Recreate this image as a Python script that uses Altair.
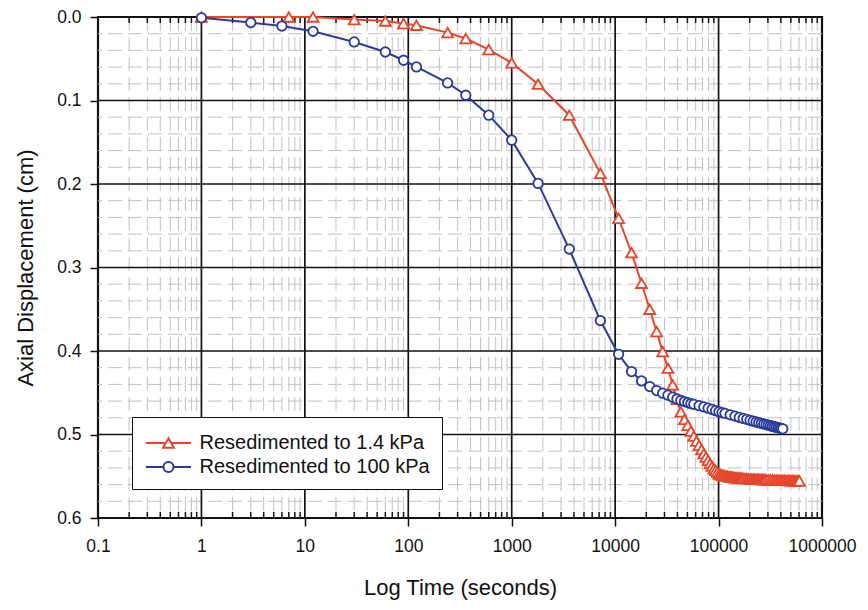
import altair as alt
import pandas as pd

RED_NAME = "Resedimented to 1.4 kPa"
BLUE_NAME = "Resedimented to 100 kPa"
RED = "#E5462B"
BLUE = "#2C3A9A"

# ---- series values (time in seconds, axial displacement in cm) ----
red_time = [1, 7, 12, 30, 60, 90, 120, 240, 360, 600, 1000, 1800, 3600, 7200,
            10800, 14400, 18000, 21600, 25200, 28800, 32400, 36000, 39600, 43200,
            46800, 50400, 54000, 57600, 61200, 64800, 68400, 72000, 75600, 79200,
            82800, 86400, 90000, 93600, 97200, 100800,
            104400, 108000, 111600, 115200, 118800, 122400, 126000, 129600, 133200, 136800,
            140400, 144000, 147600, 151200, 154800, 158400, 162000, 165600, 169200, 172800,
            180000, 187200, 194400, 201600, 208800, 216000, 223200, 230400, 237600, 244800,
            252000, 259200, 266400, 273600, 280800, 288000,
            302400, 316800, 331200, 345600, 360000, 374400, 388800, 403200, 417600, 432000,
            446400, 460800, 475200, 489600, 504000, 518400, 532800, 547200, 561600, 576000,
            590400, 604800]
red_disp = [0.0, 0.0, 0.0, 0.0031, 0.0048, 0.0079, 0.0099, 0.0187, 0.0258, 0.039,
            0.055, 0.0805, 0.1176, 0.1873, 0.2411, 0.2823, 0.3189, 0.350, 0.3768,
            0.4007, 0.4206, 0.4405, 0.458, 0.473, 0.482, 0.489, 0.496, 0.502, 0.508,
            0.513, 0.518, 0.523, 0.527, 0.531, 0.535, 0.538, 0.541, 0.543, 0.545,
            0.547,
            0.548, 0.5485, 0.549, 0.5495, 0.5499, 0.5502, 0.5505, 0.5508, 0.551, 0.5512,
            0.5514, 0.5516, 0.5518, 0.5519, 0.552, 0.5522, 0.5523, 0.5524, 0.5525, 0.5526,
            0.5528, 0.5529, 0.553, 0.5532, 0.5533, 0.5534, 0.5535, 0.5536, 0.5537, 0.5537,
            0.5538, 0.5539, 0.554, 0.554, 0.554, 0.5541,
            0.5542, 0.5543, 0.5544, 0.5545, 0.5546, 0.5546, 0.5547, 0.5548, 0.5548, 0.5549,
            0.555, 0.555, 0.5551, 0.5551, 0.5552, 0.5552, 0.5553, 0.5553, 0.5554, 0.5554,
            0.5555, 0.5555]

blue_time = [1, 3, 6, 12, 30, 60, 90, 120, 240, 360, 600, 1000, 1800, 3600, 7200,
             10800, 14400, 18000, 21600, 25200, 28800, 32400, 36000, 39600, 43200,
             46800, 50400, 54000, 57600, 64800, 72000, 79200, 86400, 93600, 100800,
             108000, 115200, 129600, 144000, 158400, 172800, 187200, 201600, 216000,
             230400, 244800, 259200, 273600, 288000, 302400, 316800, 331200, 345600,
             360000, 374400, 388800, 403200, 417600]
blue_disp = [0.001, 0.0067, 0.0108, 0.0171, 0.0299, 0.0419, 0.0518, 0.0598, 0.079,
             0.0937, 0.1176, 0.1475, 0.1993, 0.2779, 0.3636, 0.404, 0.4246, 0.4358,
             0.4426, 0.4474, 0.4505, 0.4529, 0.4553, 0.4575, 0.4593, 0.4606, 0.4618,
             0.463, 0.4638, 0.4655, 0.467, 0.4685, 0.470, 0.4715, 0.4727, 0.4737,
             0.4747, 0.4764, 0.478, 0.4795, 0.4808, 0.4818, 0.483, 0.484, 0.485,
             0.4858, 0.4866, 0.4874, 0.4881, 0.4888, 0.4895, 0.4901, 0.4907, 0.4913,
             0.4918, 0.4923, 0.4928, 0.4932]

# ---- axis tick values ----
x_major = [0.1, 1, 10, 100, 1000, 10000, 100000, 1000000]
x_minor = [m * d for d in [0.1, 1, 10, 100, 1000, 10000, 100000] for m in range(2, 10)]
y_major = [0.0, 0.1, 0.2, 0.3, 0.4, 0.5, 0.6]
y_minor = [0.02, 0.04, 0.06, 0.08, 0.12, 0.14, 0.16, 0.18, 0.22, 0.24, 0.26, 0.28,
           0.32, 0.34, 0.36, 0.38, 0.42, 0.44, 0.46, 0.48, 0.52, 0.54, 0.56, 0.58]

W, H = 724, 501
FONT = "Liberation Sans"

xscale = alt.Scale(type="log", domain=[0.1, 1000000], nice=False)
yscale = alt.Scale(domain=[0, 0.6], reverse=True, nice=False, zero=False)

x_axis = alt.Axis(
    values=x_major, grid=False, domain=False, tickSize=8, tickWidth=1.5,
    tickColor="#111111",
    labelExpr="datum.value < 1 ? '0.1' : format(datum.value, 'd')",
    labelFont=FONT, labelFontSize=17.5, labelColor="#111111", labelPadding=11,
    labelFlush=False, labelOverlap=False,
    title="Log Time (seconds)", titleFont=FONT, titleFontSize=22,
    titleFontWeight="normal", titleColor="#111111", titlePadding=23,
)
y_axis = alt.Axis(
    values=y_major, grid=False, domain=False, tickSize=8, tickWidth=1.5,
    tickColor="#111111", format=".1f",
    labelFont=FONT, labelFontSize=17.5, labelColor="#111111", labelPadding=9,
    labelFlush=False, labelOverlap=False,
    title="Axial Displacement (cm)", titleFont=FONT, titleFontSize=22,
    titleFontWeight="normal", titleColor="#111111", titlePadding=19,
)

X = lambda: alt.X("t:Q", scale=xscale, axis=x_axis, title="Log Time (seconds)")
Y = lambda: alt.Y("d:Q", scale=yscale, axis=y_axis, title="Axial Displacement (cm)")

red_df = pd.DataFrame({"t": red_time, "d": red_disp})
blue_df = pd.DataFrame({"t": blue_time, "d": blue_disp})

GRID_MINOR = "#c2c2c2"
minor_x_grid = alt.Chart(pd.DataFrame({"t": x_minor})).mark_rule(
    color=GRID_MINOR, strokeWidth=1, strokeDash=[14, 6]
).encode(x=X())

minor_y_grid = alt.Chart(pd.DataFrame({"d": y_minor})).mark_rule(
    color=GRID_MINOR, strokeWidth=1, strokeDash=[14, 6]
).encode(y=Y())

major_x_grid = alt.Chart(pd.DataFrame({"t": x_major[1:-1]})).mark_rule(
    color="#111111", strokeWidth=1.7
).encode(x=X())

major_y_grid = alt.Chart(pd.DataFrame({"d": y_major[1:-1]})).mark_rule(
    color="#111111", strokeWidth=1.7
).encode(y=Y())

minor_ticks_bottom = alt.Chart(pd.DataFrame({"t": x_minor})).mark_rule(
    color="#111111", strokeWidth=1.5
).encode(x=X(), y=alt.value(H - 6), y2=alt.value(H))

minor_ticks_top = alt.Chart(pd.DataFrame({"t": x_minor})).mark_rule(
    color="#111111", strokeWidth=1.5
).encode(x=X(), y=alt.value(0), y2=alt.value(6))

red_line = alt.Chart(red_df).mark_line(color=RED, strokeWidth=2).encode(x=X(), y=Y())
red_pts = alt.Chart(red_df).mark_point(
    shape="triangle-up", size=120, filled=True, fill="white", stroke=RED,
    strokeWidth=1.8, opacity=1
).encode(x=X(), y=Y())

blue_line = alt.Chart(blue_df).mark_line(color=BLUE, strokeWidth=2).encode(x=X(), y=Y())
blue_pts = alt.Chart(blue_df).mark_point(
    shape="circle", size=90, filled=True, fill="white", stroke=BLUE,
    strokeWidth=1.8, opacity=1
).encode(x=X(), y=Y())

# legend-only layer (symbols: line through marker)
tri_path = ("M-3.75,0 L-0.44,0 M0.44,0 L3.75,0 "
            "M0,-0.78 L0.9,0.78 L-0.9,0.78 Z")
circ_path = ("M-3.75,0 L-0.84,0 M0.84,0 L3.75,0 "
             "M0.84,0 A0.84,0.84 0 1,1 -0.84,0 A0.84,0.84 0 1,1 0.84,0 Z")
legend_df = pd.DataFrame({"series": [RED_NAME, BLUE_NAME]})
legend_layer = alt.Chart(legend_df).mark_point(
    filled=False, strokeWidth=2, opacity=1, clip=True
).encode(
    x=alt.value(-60), y=alt.value(-60),
    color=alt.Color("series:N",
                    scale=alt.Scale(domain=[RED_NAME, BLUE_NAME], range=[RED, BLUE]),
                    legend=alt.Legend(
                        title=" ", titleFontSize=2, titlePadding=2,
                        orient="none", legendX=34, legendY=400,
                        labelFont=FONT, labelFontSize=20, labelColor="#111111",
                        symbolSize=144, symbolStrokeWidth=2, symbolFillColor="white",
                        symbolOffset=14.5, labelOffset=21, padding=12, rowPadding=4,
                        strokeColor="#111111", fillColor="white",
                        labelLimit=400,
                    )),
    shape=alt.Shape("series:N",
                    scale=alt.Scale(domain=[RED_NAME, BLUE_NAME], range=[tri_path, circ_path]),
                    legend=alt.Legend(title=" ")),
)

chart = alt.layer(
    minor_x_grid, minor_y_grid, major_x_grid, major_y_grid,
    minor_ticks_bottom, minor_ticks_top,
    red_line, red_pts, blue_line, blue_pts, legend_layer,
).properties(
    width=W, height=H,
    autosize=alt.AutoSizeParams(type="none"),
    padding={"left": 98, "top": 17, "right": 868 - 98 - W, "bottom": 610 - 17 - H},
    background="white",
).configure_view(stroke="#111111", strokeWidth=2.2)

chart.save("out.html", embed_options={"renderer": "svg", "actions": False})
